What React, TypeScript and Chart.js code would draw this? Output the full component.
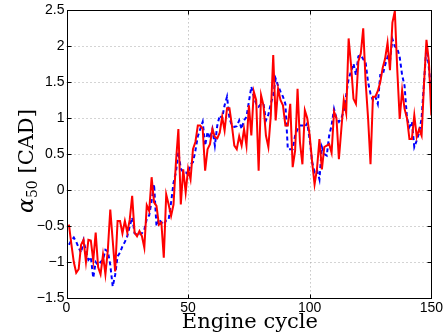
import React, { useEffect, useRef } from "react";
import { Chart, registerables } from "chart.js";

Chart.register(...registerables);

const redSeries: number[] = [
  -0.48, -0.75, -1.0, -1.15, -1.1, -0.76, -0.69, -1.0, -0.69, -0.7,
  -0.98, -0.59, -1.07, -1.17, -0.9, -1.17, -0.83, -0.27, -0.7, -1.13,
  -0.43, -0.43, -0.6, -0.43, -0.59, -0.41, -0.08, -0.59, -0.64, -0.57,
  -0.64, -0.8, -0.21, -0.29, 0.18, -0.17, -0.22, -0.48, -0.45, -0.94,
  -0.06, -0.2, -0.36, -0.2, 0.39, 0.85, -0.2, 0.29, -0.03, 0.3,
  0.15, 0.57, 0.67, 0.9, 0.9, 0.85, 0.27, 0.57, 0.64, 0.85,
  0.74, 0.72, 0.8, 1.02, 0.83, 1.14, 1.14, 0.9, 0.62, 0.57,
  0.75, 0.62, 0.85, 0.62, 1.18, 0.76, 1.37, 1.25, 0.27, 1.32,
  1.18, 0.76, 0.6, 1.04, 1.88, 0.97, 1.41, 1.25, 1.18, 0.9,
  0.9, 1.2, 0.32, 0.55, 1.41, 0.66, 0.36, 1.11, 1.0, 0.76,
  0.39, 0.08, 0.3, 0.71, 0.29, 0.6, 0.62, 0.64, 0.52, 1.09,
  1.0, 0.43, 0.85, 1.25, 1.07, 2.11, 1.74, 1.27, 1.2, 1.79,
  1.9, 2.25, 1.5, 1.0, 0.36, 1.3, 1.3, 1.38, 1.5, 1.7,
  1.83, 2.05, 1.67, 2.33, 2.49, 1.67, 0.99, 1.39, 1.13, 1.0,
  0.71, 0.71, 1.04, 0.74, 0.85, 0.76, 1.48, 2.09, 1.79, 1.04,
];

const blueSeries: number[] = [
  -0.76, -0.7, -0.66, -0.72, -0.8, -0.87, -0.7, -0.85, -0.97, -0.93,
  -1.22, -1.0, -1.04, -1.0, -0.97, -0.83, -0.85, -1.04, -1.34, -1.18,
  -0.92, -0.87, -0.78, -0.72, -0.64, -0.5, -0.38, -0.6, -0.62, -0.62,
  -0.6, -0.55, -0.4, -0.35, -0.15, 0.08, -0.5, -0.4, -0.45, -0.48,
  -0.42, -0.41, -0.17, 0.1, 0.25, 0.53, 0.3, 0.25, 0.25, 0.22,
  0.36, 0.39, 0.55, 0.75, 0.85, 0.95, 0.62, 0.81, 0.72, 0.85,
  0.62, 0.9, 1.04, 1.0, 1.18, 1.3, 1.0, 0.9, 0.88, 0.89,
  0.97, 0.85, 0.97, 1.02, 1.23, 1.44, 1.3, 1.2, 1.16, 1.2,
  1.2, 0.97, 1.05, 1.2, 1.32, 1.55, 1.45, 1.37, 1.3, 1.2,
  0.57, 0.57, 0.57, 0.76, 0.85, 0.9, 0.9, 0.88, 0.93, 0.7,
  0.39, 0.25, 0.28, 0.15, 0.6, 0.5, 0.48, 0.76, 0.9, 1.13,
  1.0, 0.95, 1.0, 1.1, 1.32, 1.55, 1.65, 1.76, 1.6, 1.86,
  1.88, 1.82, 1.77, 1.5, 1.34, 1.25, 1.3, 1.2, 1.6, 1.6,
  1.74, 1.85, 1.79, 2.1, 2.0, 1.97, 1.85, 1.6, 1.45, 1.0,
  0.88, 0.95, 0.6, 0.69, 0.8, 1.0, 1.5, 2.0, 1.7, 1.34,
];

const cycles: number[] = redSeries.map((_, i) => i + 1);

const xTicks = [0, 50, 100, 150];
const yTicks = [-1.5, -1, -0.5, 0, 0.5, 1, 1.5, 2, 2.5];

const xTitle = "Engine cycle";
const yTitleSymbol = "α";
const yTitleSub = "50";
const yTitleUnit = " [CAD]";

const fmt = (v: number) => String(v).replace("-", "\u2212");

const framePlugin = {
  id: "frame",
  beforeDatasetsDraw(chart: any) {
    const { ctx, chartArea: a, scales } = chart;
    const xs = scales.x;
    const ys = scales.y;
    ctx.save();
    ctx.strokeStyle = "#a8a8a8";
    ctx.lineWidth = 1;
    ctx.setLineDash([1, 3]);
    xTicks.forEach((t) => {
      const px = Math.round(xs.getPixelForValue(t)) + 0.5;
      if (px <= a.left + 1 || px >= a.right - 1) return;
      ctx.beginPath();
      ctx.moveTo(px, a.top);
      ctx.lineTo(px, a.bottom);
      ctx.stroke();
    });
    yTicks.forEach((t) => {
      const py = Math.round(ys.getPixelForValue(t)) + 0.5;
      if (py <= a.top + 1 || py >= a.bottom - 1) return;
      ctx.beginPath();
      ctx.moveTo(a.left, py);
      ctx.lineTo(a.right, py);
      ctx.stroke();
    });
    ctx.restore();
  },
  afterDatasetsDraw(chart: any) {
    const { ctx, chartArea: a, scales } = chart;
    const xs = scales.x;
    const ys = scales.y;
    ctx.save();
    ctx.strokeStyle = "#000";
    ctx.lineWidth = 1;
    ctx.setLineDash([]);
    const L = Math.round(a.left) + 0.5;
    const R = Math.round(a.right) + 0.5;
    const T = Math.round(a.top) + 0.5;
    const B = Math.round(a.bottom) + 0.5;
    ctx.strokeRect(L, T, R - L, B - T);
    const tl = 4;
    xTicks.forEach((t) => {
      const px = Math.round(xs.getPixelForValue(t)) + 0.5;
      ctx.beginPath();
      ctx.moveTo(px, B);
      ctx.lineTo(px, B - tl);
      ctx.moveTo(px, T);
      ctx.lineTo(px, T + tl);
      ctx.stroke();
    });
    yTicks.forEach((t) => {
      const py = Math.round(ys.getPixelForValue(t)) + 0.5;
      ctx.beginPath();
      ctx.moveTo(L, py);
      ctx.lineTo(L + tl, py);
      ctx.moveTo(R, py);
      ctx.lineTo(R - tl, py);
      ctx.stroke();
    });

    // x title
    ctx.fillStyle = "#000";
    ctx.font = '21px "DejaVu Serif"';
    ctx.textAlign = "center";
    ctx.textBaseline = "alphabetic";
    ctx.fillText(xTitle, (a.left + a.right) / 2 + 1, 328);

    // y title
    const big = '21px "DejaVu Serif"';
    const bigIt = 'italic 22px "DejaVu Serif"';
    const small = '14px "DejaVu Serif"';
    ctx.font = bigIt;
    const w1 = ctx.measureText(yTitleSymbol).width;
    ctx.font = small;
    const w2 = ctx.measureText(yTitleSub).width;
    ctx.font = big;
    const w3 = ctx.measureText(yTitleUnit).width;
    const total = w1 + w2 + w3;
    ctx.translate(33, 161);
    ctx.rotate(-Math.PI / 2);
    ctx.textAlign = "left";
    let u = -total / 2;
    ctx.font = bigIt;
    ctx.fillText(yTitleSymbol, u, 0);
    u += w1;
    ctx.font = small;
    ctx.fillText(yTitleSub, u, 4);
    u += w2;
    ctx.font = big;
    ctx.fillText(yTitleUnit, u, 0);
    ctx.restore();
  },
};

export default function App() {
  const ref = useRef<HTMLCanvasElement | null>(null);

  useEffect(() => {
    const canvas = ref.current;
    if (!canvas) return;
    const chart = new Chart(canvas, {
      type: "line",
      data: {
        datasets: [
          {
            label: "red",
            data: cycles.map((c, i) => ({ x: c, y: redSeries[i] })),
            borderColor: "#ff0000",
            borderWidth: 2,
            pointRadius: 0,
            tension: 0,
            fill: false,
            order: 0,
          },
          {
            label: "blue",
            data: cycles.map((c, i) => ({ x: c, y: blueSeries[i] })),
            borderColor: "#0000ff",
            borderWidth: 2,
            borderDash: [4, 3],
            pointRadius: 0,
            tension: 0,
            fill: false,
            order: 1,
          },
        ],
      },
      options: {
        responsive: false,
        animation: false,
        devicePixelRatio: 1,
        layout: { padding: { left: 0, right: 13, top: 10, bottom: 0 } },
        plugins: {
          legend: { display: false },
          tooltip: { enabled: false },
          title: { display: false },
        },
        scales: {
          x: {
            type: "linear",
            min: 0,
            max: 150,
            grid: { display: false, drawTicks: false },
            border: { display: false },
            afterBuildTicks: (scale: any) => {
              scale.ticks = xTicks.map((v) => ({ value: v }));
            },
            afterFit: (scale: any) => {
              scale.height = 38;
            },
            ticks: {
              autoSkip: false,
              maxRotation: 0,
              padding: 2,
              color: "#000",
              font: { family: '"Liberation Sans", Arial, sans-serif', size: 14 },
              callback: (v: any) => fmt(Number(v)),
            },
          },
          y: {
            type: "linear",
            min: -1.5,
            max: 2.5,
            grid: { display: false, drawTicks: false },
            border: { display: false },
            afterBuildTicks: (scale: any) => {
              scale.ticks = yTicks.map((v) => ({ value: v }));
            },
            afterFit: (scale: any) => {
              scale.width = 66.5;
            },
            ticks: {
              autoSkip: false,
              padding: 2,
              color: "#000",
              font: { family: '"Liberation Sans", Arial, sans-serif', size: 14 },
              callback: (v: any) => fmt(Number(v)),
            },
          },
        },
      },
      plugins: [framePlugin],
    });
    return () => chart.destroy();
  }, []);

  return (
    <div style={{ position: "absolute", left: 0, top: 0, width: 445, height: 336, background: "#fff" }}>
      <canvas ref={ref} width={445} height={336} style={{ display: "block" }} />
    </div>
  );
}
